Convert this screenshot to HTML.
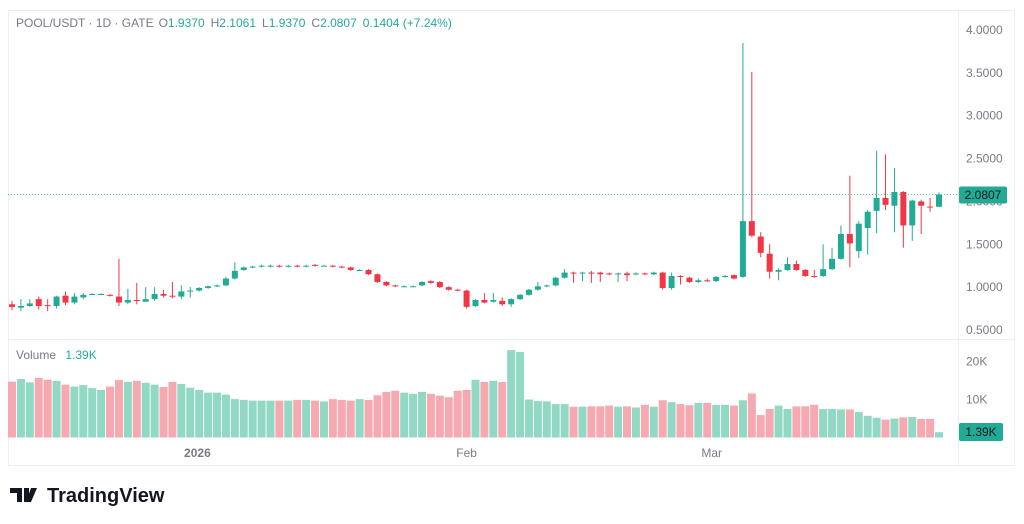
<!DOCTYPE html>
<html><head><meta charset="utf-8"><style>
html,body{margin:0;padding:0;background:#fff;width:1024px;height:524px;overflow:hidden;font-family:"Liberation Sans",sans-serif}
svg{position:absolute;left:0;top:0}
</style></head><body>
<svg id="chart" width="1024" height="524">
  <rect x="8.5" y="10.5" width="1006" height="455" fill="#fff" stroke="#eceef2"/>
  <line x1="958.5" y1="10" x2="958.5" y2="465" stroke="#eceef2"/>
  <line x1="8" y1="339.5" x2="1014" y2="339.5" stroke="#eceef2"/>
  <g id="grid"></g>
  <g id="vol"></g>
  <g id="candles"></g>
  <g id="axes"></g>
  <text x="16" y="27" font-size="12" fill="#787b86">POOL/USDT · 1D · GATE<tspan dx="5">O</tspan><tspan fill="#22ab94">1.9370</tspan><tspan dx="6">H</tspan><tspan fill="#22ab94">2.1061</tspan><tspan dx="6">L</tspan><tspan fill="#22ab94">1.9370</tspan><tspan dx="6">C</tspan><tspan fill="#22ab94">2.0807</tspan><tspan dx="6" fill="#22ab94">0.1404 (+7.24%)</tspan></text>
  <text x="16" y="359" font-size="12" fill="#787b86">Volume <tspan fill="#22ab94" dx="6">1.39K</tspan></text>
  <g>
    <path d="M10 488h12v14h-5v-9h-7z M24 488h5v14h-5z" fill="#131722"/>
    <path d="M31 488h6l-6 14h-5z" fill="#131722"/>
    <text x="47" y="502" font-size="20" font-weight="bold" fill="#131722">TradingView</text>
  </g>
</svg>
<script>
const opens=[.80,.76,.78,.86,.79,.78,.90,.82,.88,.92,.92,.91,.89,.82,.85,.83,.86,.92,.90,.89,.95,.96,.99,1.01,1.02,1.10,1.20,1.23,1.24,1.24,1.25,1.24,1.25,1.24,1.26,1.25,1.25,1.24,1.23,1.20,1.20,1.15,1.06,1.02,1.01,1.01,1.02,1.07,1.06,1.00,.97,.96,.78,.85,.83,
.84,.80,.86,.91,.97,1.01,1.02,1.11,1.17,1.16,1.17,1.17,1.16,1.15,1.16,1.15,1.16,1.15,1.17,.99,1.13,1.11,1.06,1.08,1.07,1.12,1.14,1.12,1.77,1.59,1.39,1.18,1.20,1.27,1.20,1.13,1.13,1.21,1.33,1.62,1.42,1.69,1.89,2.04,1.95,2.11,1.72,2.00,1.94,1.937];
const closes=[.77,.78,.81,.78,.78,.89,.82,.89,.91,.92,.92,.90,.82,.85,.84,.86,.92,.90,.89,.95,.96,.99,1.01,1.02,1.10,1.19,1.23,1.24,1.25,1.25,1.24,1.25,1.24,1.25,1.25,1.25,1.24,1.23,1.20,1.20,1.15,1.06,1.02,1.01,1.01,1.01,1.06,1.05,1.00,.97,.96,.77,.85,.82,.85,
.80,.86,.91,.97,1.01,1.02,1.11,1.17,1.16,1.17,1.16,1.15,1.15,1.16,1.14,1.16,1.15,1.17,.99,1.13,1.12,1.06,1.08,1.07,1.12,1.13,1.10,1.77,1.60,1.40,1.18,1.20,1.27,1.20,1.13,1.12,1.21,1.33,1.62,1.51,1.74,1.88,2.04,1.96,2.11,1.72,2.01,1.95,1.93,2.0807];
const highs=[.84,.86,.86,.89,.86,.90,.95,.93,.93,.93,.93,.92,1.33,.98,1.05,1.00,1.00,.97,1.06,1.02,1.00,1.00,1.02,1.03,1.12,1.29,1.24,1.25,1.26,1.26,1.26,1.26,1.26,1.26,1.27,1.26,1.26,1.25,1.24,1.21,1.21,1.16,1.07,1.03,1.02,1.02,1.07,1.08,1.07,1.01,.98,.97,.86,.93,.93,
.88,.87,.92,.98,1.06,1.03,1.12,1.21,1.18,1.18,1.19,1.18,1.17,1.17,1.18,1.17,1.17,1.18,1.18,1.17,1.14,1.12,1.10,1.10,1.13,1.14,1.15,3.85,3.51,1.64,1.50,1.22,1.35,1.31,1.21,1.20,1.50,1.46,1.72,2.30,1.77,1.90,2.59,2.55,2.39,2.12,2.02,2.02,2.04,2.1061];
const lows=[.73,.72,.77,.74,.72,.75,.79,.80,.86,.91,.91,.89,.78,.80,.80,.83,.84,.88,.87,.86,.88,.95,.98,1.00,1.01,1.09,1.19,1.22,1.23,1.23,1.23,1.23,1.23,1.23,1.24,1.24,1.23,1.22,1.19,1.19,1.14,1.05,1.01,1.00,1.00,1.00,1.01,1.04,.99,.96,.95,.75,.77,.81,.82,
.78,.77,.85,.90,.96,1.00,1.01,1.10,1.05,1.07,1.05,1.06,1.14,1.06,1.07,1.14,1.14,1.14,.97,.97,1.03,1.05,1.05,1.06,1.06,1.11,1.09,1.11,1.58,1.35,1.10,1.08,1.19,1.19,1.12,1.11,1.12,1.20,1.32,1.23,1.34,1.38,1.63,1.90,1.64,1.46,1.54,1.62,1.88,1.937];
const volumes=[14.7,15.4,14.5,15.7,15.2,14.9,13.9,13.4,13.8,13.0,12.5,13.4,15.1,14.6,14.9,14.4,13.9,13.3,14.6,14.1,13.1,12.5,11.8,11.8,11.3,10.1,9.9,9.7,9.7,9.7,9.7,9.7,9.9,9.9,9.7,9.5,10.1,9.9,9.7,10.1,9.9,11.1,12.0,12.3,11.8,11.5,12.0,11.5,11.0,10.6,12.3,12.5,15.2,14.6,14.9,
14.6,23.0,22.5,10.0,9.6,9.5,8.8,8.8,8.1,8.1,8.2,8.2,8.4,8.1,8.2,7.9,8.6,8.1,9.8,9.3,8.8,8.5,9.1,9.1,8.6,8.6,8.4,9.8,11.6,5.9,7.5,8.4,7.5,8.2,8.2,8.6,7.5,7.5,7.4,7.4,6.7,5.7,5.2,4.7,5.0,5.3,5.4,4.9,4.9,1.39];
const priceTicks=[4,3.5,3,2.5,2,1.5,1,0.5];
const volTicks=[20,10];
const timeLabels=['2026','Feb','Mar'];
const timeIdx=[20.8,51,78.5];
const lastPrice=2.0807, lastVol='1.39K';

const NS='http://www.w3.org/2000/svg';
const N=opens.length;
const xs=i=>12+i*(927/(N-1));
const yp=p=>30+(4-p)*(300/3.5);
const yv=v=>437.5-v*3.8;
function mk(tag,attrs,parent){const e=document.createElementNS(NS,tag);for(const k in attrs)e.setAttribute(k,attrs[k]);parent.appendChild(e);return e;}
const G=document.getElementById('candles'),V=document.getElementById('vol'),A=document.getElementById('axes');
for(let i=0;i<N;i++){
  const up=closes[i]>=opens[i];const c=up?'#22ab94':'#f23645';const x=xs(i);
  const g=mk('g',{},G);
  
  
  mk('line',{x1:x,x2:x,y1:yp(highs[i]),y2:yp(lows[i]),stroke:c,'stroke-width':1},g);
  const t=yp(Math.max(opens[i],closes[i])),b=yp(Math.min(opens[i],closes[i]));
  mk('rect',{x:x-3,y:t,width:6,height:Math.max(1,b-t),fill:c},g);
  const r=mk('rect',{x:x-4,y:yv(volumes[i]),width:8,height:volumes[i]*3.8,fill:up?'#92d9c5':'#f7a9b1'},V);
  
  
}
priceTicks.forEach(p=>{const t=mk('text',{x:966,y:yp(p)+4,'font-size':12,fill:'#787b86'},A);t.textContent=p.toFixed(4);
  
  });
volTicks.forEach(v=>{const t=mk('text',{x:966,y:yv(v)+4,'font-size':12,fill:'#787b86'},A);t.textContent=v+'K';
  
  });
timeLabels.forEach((l,k)=>{const t=mk('text',{x:xs(timeIdx[k]),y:457,'font-size':12,fill:'#787b86','text-anchor':'middle','font-weight':k==0?'bold':'normal'},A);t.textContent=l;
  
  });
const yl=yp(lastPrice);
const dl=mk('line',{x1:8,x2:958,y1:yl,y2:yl,stroke:'#22ab94','stroke-width':1,'stroke-dasharray':'1 2',opacity:.7},A);


const pb=mk('rect',{x:959,y:yl-8,width:48,height:17,rx:2,fill:'#22ab94'},A);


const pt=mk('text',{x:983,y:yl+4.5,'font-size':12,fill:'#131722','text-anchor':'middle'},A);pt.textContent=lastPrice.toFixed(4);


const vb=mk('rect',{x:959,y:423,width:44,height:18,rx:2,fill:'#22ab94'},A);


const vt=mk('text',{x:981,y:436,'font-size':12,fill:'#131722','text-anchor':'middle'},A);vt.textContent=lastVol;


</script>
</body></html>
